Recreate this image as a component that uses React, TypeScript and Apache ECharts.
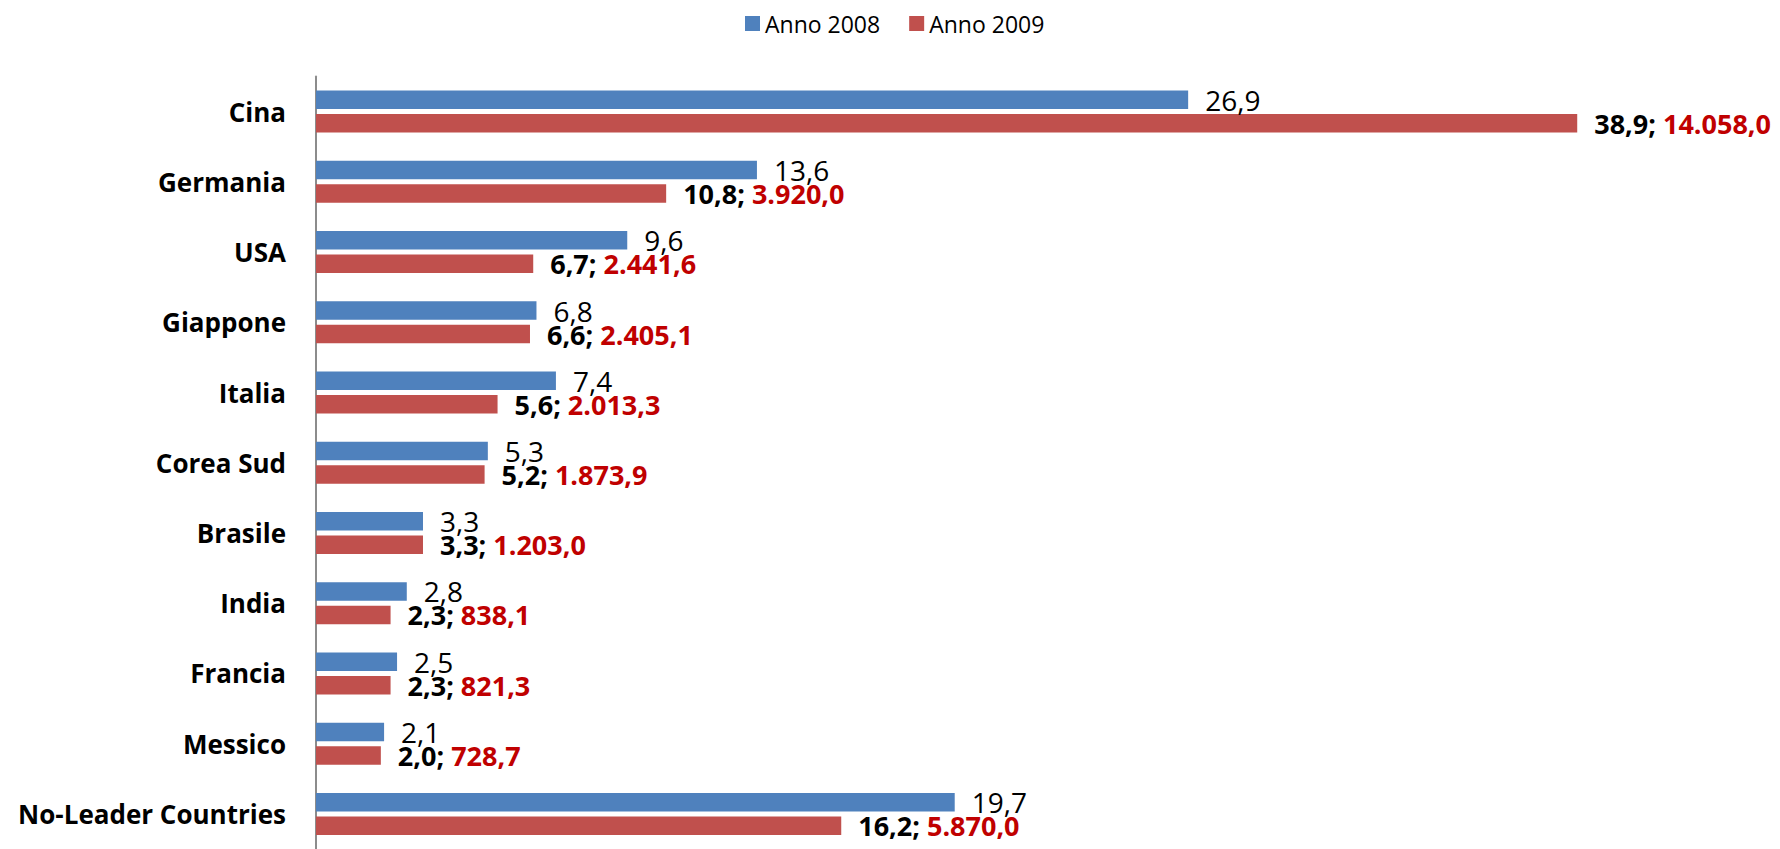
import React, { useEffect, useRef } from "react";
import * as echarts from "echarts";

const categories = [
  "Cina",
  "Germania",
  "USA",
  "Giappone",
  "Italia",
  "Corea Sud",
  "Brasile",
  "India",
  "Francia",
  "Messico",
  "No-Leader Countries",
];
const share2008 = [26.9, 13.6, 9.6, 6.8, 7.4, 5.3, 3.3, 2.8, 2.5, 2.1, 19.7];
const share2009 = [38.9, 10.8, 6.7, 6.6, 5.6, 5.2, 3.3, 2.3, 2.3, 2.0, 16.2];
const qty2009 = [14058.0, 3920.0, 2441.6, 2405.1, 2013.3, 1873.9, 1203.0, 838.1, 821.3, 728.7, 5870.0];
const seriesNames = ["Anno 2008", "Anno 2009"];

const fmt = (v: number) => {
  const [i, d] = v.toFixed(1).split(".");
  const withSep = i.replace(/\B(?=(\d{3})+(?!\d))/g, ".");
  return withSep + "," + d;
};

const FONT = "'Open Sans', 'Noto Sans', sans-serif";

export default function App() {
  const ref = useRef<HTMLDivElement>(null);
  useEffect(() => {
    if (!ref.current) return;
    const chart = echarts.init(ref.current, undefined, { renderer: "svg" });
    chart.setOption({
      animation: false,
      backgroundColor: "#ffffff",
      legend: {
        left: 745,
        top: 12,
        padding: 0,
        itemWidth: 15,
        itemHeight: 15,
        itemGap: 29,
        icon: "rect",
        data: seriesNames,
        textStyle: { fontSize: 23, fontFamily: FONT, color: "#000" },
      },
      grid: { left: 316, right: 5, top: 76.5, bottom: -7.5, containLabel: false },
      xAxis: { type: "value", min: 0, max: 45, show: false },
      yAxis: {
        type: "category",
        inverse: true,
        data: categories,
        axisLine: { show: true, lineStyle: { color: "#8c8c8c", width: 2 } },
        axisTick: { show: false },
        axisLabel: {
          fontSize: 26,
          fontWeight: "bold",
          fontFamily: FONT,
          color: "#000",
          margin: 30,
        },
      },
      series: [
        {
          name: seriesNames[0],
          type: "bar",
          data: share2008,
          barWidth: 18.5,
          barGap: "27%",
          itemStyle: { color: "#4F81BD" },
          label: {
            show: true,
            position: "right",
            distance: 17,
            fontSize: 28,
            lineHeight: 21,
            fontFamily: FONT,
            color: "#000",
            formatter: (p: any) => fmt(p.value),
          },
        },
        {
          name: seriesNames[1],
          type: "bar",
          data: share2009,
          barWidth: 18.5,
          barGap: "27%",
          itemStyle: { color: "#C0504D" },
          label: {
            show: true,
            position: "right",
            distance: 17,
            fontSize: 27,
            lineHeight: 21,
            fontWeight: "bold",
            fontFamily: FONT,
            formatter: (p: any) => `{a|${fmt(p.value)}; }{b|${fmt(qty2009[p.dataIndex])}}`,
            rich: {
              a: { fontSize: 27, lineHeight: 21, fontWeight: "bold", fontFamily: FONT, color: "#000" },
              b: { fontSize: 27, lineHeight: 21, fontWeight: "bold", fontFamily: FONT, color: "#C00000" },
            },
          },
        },
      ],
    });
    return () => chart.dispose();
  }, []);
  return (
    <div
      ref={ref}
      style={{ position: "absolute", left: 0, top: 0, width: 1780, height: 849 }}
    />
  );
}
